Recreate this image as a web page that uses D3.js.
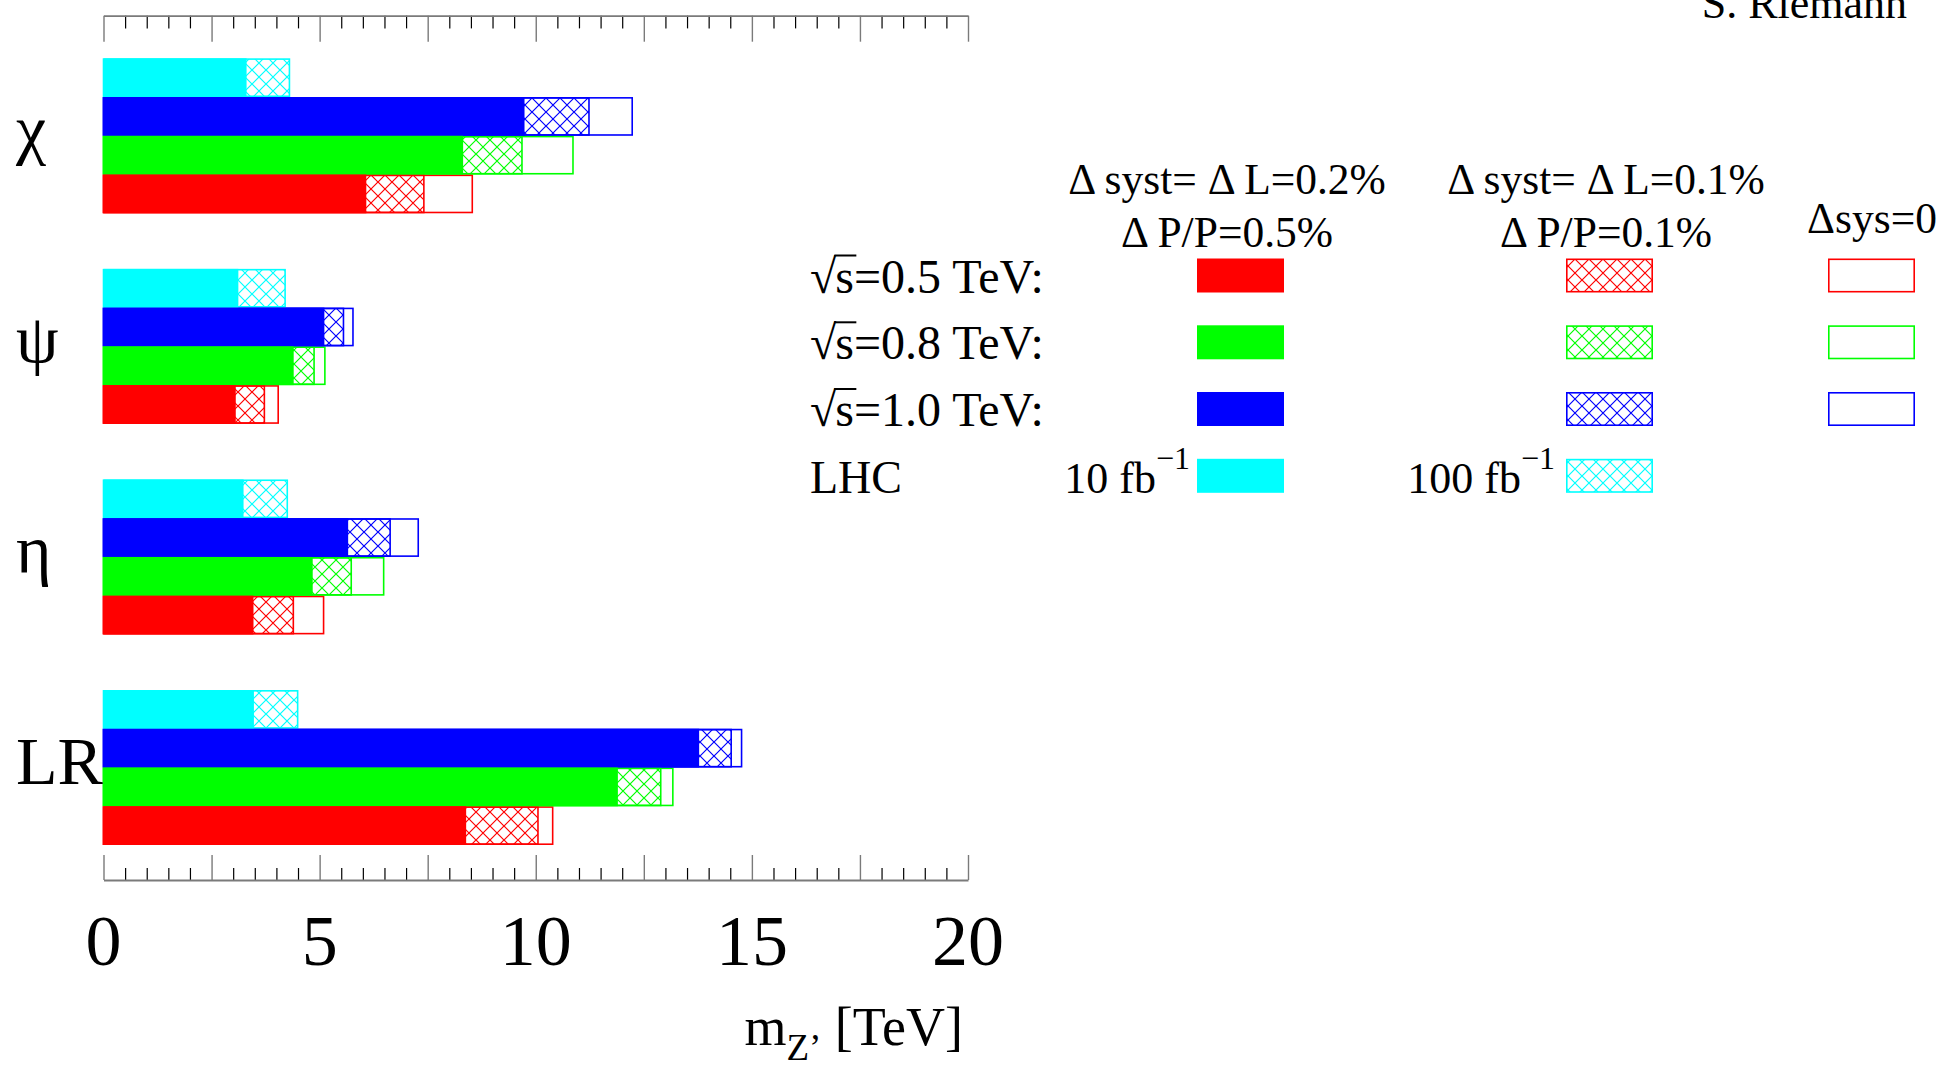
<!DOCTYPE html>
<html>
<head>
<meta charset="utf-8">
<script src="https://cdn.jsdelivr.net/npm/d3@7"></script>
<style>
	body { margin: 0; background: #fff; }
	svg { display: block; font-family: "Liberation Serif", "Times New Roman", serif; }
</style>
</head>
<body>
<svg id="chart"></svg>
<script>
// Z' discovery reach, values in TeV
const models = ["χ", "ψ", "η", "LR"];
const seriesKeys = ["lhc", "s10", "s08", "s05"]; // top to bottom inside each model block
const seriesColors = ["#00ffff", "#0000ff", "#00ff00", "#ff0000"];

// solid = large syst (LHC: 10 fb-1), hatched = small syst (LHC: 100 fb-1), open = no syst
const solidReach = [
	[3.31, 9.74, 8.32, 6.08],
	[3.12, 5.11, 4.40, 3.06],
	[3.24, 5.66, 4.84, 3.47],
	[3.48, 13.78, 11.90, 8.39]
];
const hatchReach = [
	[4.32, 11.25, 9.70, 7.43],
	[4.22, 5.57, 4.89, 3.74],
	[4.27, 6.65, 5.75, 4.41],
	[4.51, 14.54, 12.91, 10.07]
];
const openReach = [
	[null, 12.25, 10.88, 8.55],
	[null, 5.79, 5.14, 4.06],
	[null, 7.30, 6.50, 5.11],
	[null, 14.78, 13.19, 10.41]
];

const majorTicks = [0, 2.5, 5, 7.5, 10, 12.5, 15, 17.5, 20];
const tickLabels = [0, 5, 10, 15, 20];

const legendLabels = ["s=0.5 TeV:", "s=0.8 TeV:", "s=1.0 TeV:", "LHC"];
const legendColors = ["#ff0000", "#00ff00", "#0000ff", "#00ffff"];
const headerLeft = ["Δ syst= Δ L=0.2%", "Δ P/P=0.5%"];
const headerMid = ["Δ syst= Δ L=0.1%", "Δ P/P=0.1%"];
const headerRight = "Δsys=0";

const width = 1954, height = 1070;

const svg = d3.select("#chart")
	.attr("width", width)
	.attr("height", height)
	.attr("viewBox", `0 0 ${width} ${height}`);

const x = d3.scaleLinear().domain([0, 20]).range([103.5, 968]);
const y = d3.scaleBand().domain(models).range([58.3, 845]).paddingInner(0.264).paddingOuter(0);
const yInner = d3.scaleBand().domain(seriesKeys).range([0, y.bandwidth()]);

// cross hatch patterns, one per colour
const defs = svg.append("defs");
seriesColors.forEach((c, i) => {
	defs.append("pattern")
		.attr("id", "hatch" + i)
		.attr("patternUnits", "userSpaceOnUse")
		.attr("width", 14)
		.attr("height", 14)
		.append("path")
		.attr("d", "M-1,-1L15,15M15,-1L-1,15")
		.attr("stroke", c)
		.attr("stroke-width", 1.2)
		.attr("fill", "none");
});

// bars
const bars = [];
models.forEach((m, mi) => {
	seriesKeys.forEach((k, si) => {
		bars.push({ m, k, si, solid: solidReach[mi][si], hatch: hatchReach[mi][si], open: openReach[mi][si] });
	});
});
const barY = d => y(d.m) + yInner(d.k);
const bh = yInner.bandwidth();

const gBars = svg.append("g");
gBars.selectAll("rect.open")
	.data(bars.filter(d => d.open != null))
	.join("rect")
	.attr("class", "open")
	.attr("x", x(0))
	.attr("y", d => barY(d) + 0.8)
	.attr("width", d => x(d.open) - x(0) - 0.8)
	.attr("height", bh - 1.6)
	.attr("fill", "none")
	.attr("stroke", d => seriesColors[d.si])
	.attr("stroke-width", 1.6);

gBars.selectAll("rect.hatch")
	.data(bars)
	.join("rect")
	.attr("class", "hatch")
	.attr("x", x(0))
	.attr("y", d => barY(d) + 0.8)
	.attr("width", d => x(d.hatch) - x(0) - 0.8)
	.attr("height", bh - 1.6)
	.attr("fill", d => `url(#hatch${d.si})`)
	.attr("stroke", d => seriesColors[d.si])
	.attr("stroke-width", 1.6);

gBars.selectAll("rect.solid")
	.data(bars)
	.join("rect")
	.attr("class", "solid")
	.attr("x", x(0))
	.attr("y", d => barY(d))
	.attr("width", d => x(d.solid) - x(0))
	.attr("height", bh)
	.attr("fill", d => seriesColors[d.si]);

// model labels
svg.append("g").selectAll("text")
	.data(models)
	.join("text")
	.attr("x", 16)
	.attr("y", d => y(d) + y.bandwidth() / 2 + 16)
	.attr("font-size", 68)
	.attr("fill", "#000")
	.text(d => d);

// axes: top (ticks down) and bottom (ticks up)
const minorTicks = d3.range(0, 20.01, 0.5).filter(v => !majorTicks.includes(v));

function drawAxis(yPos, axisFn, majorLen, minorLen) {
	const g = svg.append("g").attr("transform", `translate(0,${yPos})`);
	g.call(axisFn(x).tickValues(minorTicks).tickSize(minorLen).tickSizeOuter(0).tickFormat(""));
	g.selectAll(".tick line").attr("stroke", "#000").attr("stroke-width", 1.2);
	const g2 = svg.append("g").attr("transform", `translate(0,${yPos})`);
	g2.call(axisFn(x).tickValues(majorTicks).tickSize(majorLen).tickSizeOuter(0).tickFormat(""));
	g2.selectAll(".tick line").attr("stroke", "#7a7a7a").attr("stroke-width", 1.4);
	g2.select(".domain").attr("stroke", "#7a7a7a").attr("stroke-width", 1.8);
	g.select(".domain").remove();
}
drawAxis(15.7, d3.axisBottom, 26, 12.7);
drawAxis(880, d3.axisTop, 25, 12);

svg.append("g").selectAll("text")
	.data(tickLabels)
	.join("text")
	.attr("x", d => x(d))
	.attr("y", 965)
	.attr("text-anchor", "middle")
	.attr("font-size", 72)
	.text(d => d);

const title = svg.append("text")
	.attr("x", 963)
	.attr("y", 1045)
	.attr("text-anchor", "end")
	.attr("font-size", 54);
title.append("tspan").text("m");
title.append("tspan").attr("dy", 15).attr("font-size", 37).text("Z’");
title.append("tspan").attr("dy", -15).text(" [TeV]");

// author
svg.append("text")
	.attr("x", 1907)
	.attr("y", 18)
	.attr("text-anchor", "end")
	.attr("font-size", 44)
	.text("S. Riemann");

// legend
const rowTop = [258.5, 325.3, 392, 458.8];
const swH = 34;
const colX = [1197, 1566, 1828];
const swW = 87;

const gLeg = svg.append("g");
[headerLeft, headerMid].forEach((h, i) => {
	const cx = i === 0 ? 1227 : 1606;
	h.forEach((line, j) => {
		gLeg.append("text")
			.attr("x", cx)
			.attr("y", j === 0 ? 194 : 247)
			.attr("text-anchor", "middle")
			.attr("font-size", 43.5)
			.text(line);
	});
});
gLeg.append("text")
	.attr("x", 1872)
	.attr("y", 233)
	.attr("text-anchor", "middle")
	.attr("font-size", 43.5)
	.text(headerRight);

legendLabels.forEach((lab, i) => {
	const by = rowTop[i] + swH / 2 + 17;
	if (i < 3) {
		const root = gLeg.append("text")
			.attr("x", 810)
			.attr("y", by)
			.attr("font-size", 48)
			.text("√");
		const rw = root.node().getComputedTextLength();
		gLeg.append("text")
			.attr("x", 810 + rw - 1)
			.attr("y", by)
			.attr("font-size", 48)
			.text(lab);
		gLeg.append("line")
			.attr("x1", 810 + rw - 2)
			.attr("x2", 810 + rw + 20)
			.attr("y1", by - 37)
			.attr("y2", by - 37)
			.attr("stroke", "#000")
			.attr("stroke-width", 2);
	} else {
		gLeg.append("text")
			.attr("x", 810)
			.attr("y", by)
			.attr("font-size", 46)
			.text(lab);
	}
	// solid
	gLeg.append("rect")
		.attr("x", colX[0]).attr("y", rowTop[i])
		.attr("width", swW).attr("height", swH)
		.attr("fill", legendColors[i]);
	// hatched
	const si = seriesColors.indexOf(legendColors[i]);
	gLeg.append("rect")
		.attr("x", colX[1] + 0.8).attr("y", rowTop[i] + 0.8)
		.attr("width", swW - 1.6).attr("height", swH - 1.6)
		.attr("fill", `url(#hatch${si})`)
		.attr("stroke", legendColors[i])
		.attr("stroke-width", 1.6);
	// open
	if (i < 3) {
		gLeg.append("rect")
			.attr("x", colX[2] + 0.8).attr("y", rowTop[i] + 0.8)
			.attr("width", swW - 1.6).attr("height", swH - 1.6)
			.attr("fill", "none")
			.attr("stroke", legendColors[i])
			.attr("stroke-width", 1.6);
	}
});

// luminosity labels for the LHC row
[["10 fb", 1190], ["100 fb", 1555]].forEach(([t, xe]) => {
	const lt = gLeg.append("text")
		.attr("x", xe)
		.attr("y", rowTop[3] + swH / 2 + 17)
		.attr("text-anchor", "end")
		.attr("font-size", 44);
	lt.append("tspan").text(t);
	lt.append("tspan").attr("dy", -24).attr("font-size", 32).text("−1");
});
</script>
</body>
</html>
